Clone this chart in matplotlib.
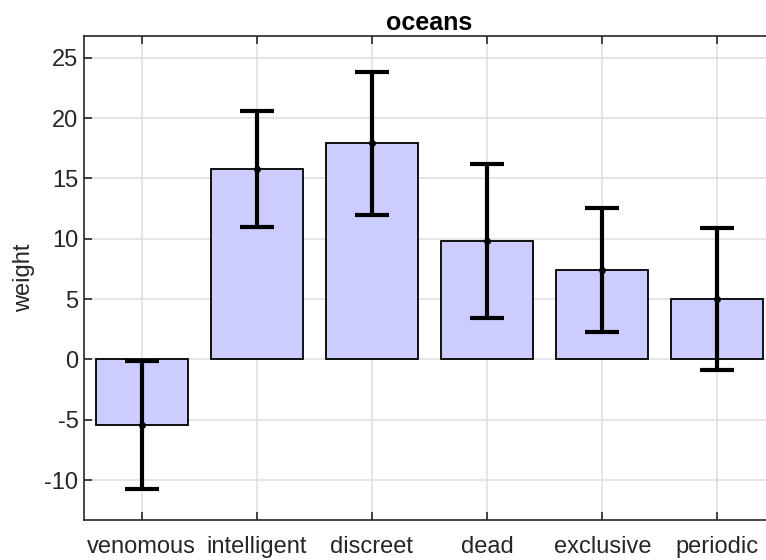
import matplotlib.pyplot as plt
import numpy as np

# bar heights and error half-widths per category
categories = ["venomous", "intelligent", "discreet", "dead", "exclusive", "periodic"]
weights = [-5.45, 15.8, 17.9, 9.8, 7.4, 5.0]
errors = [5.3, 4.8, 5.9, 6.4, 5.15, 5.9]

plt.rcParams["font.family"] = ["Liberation Sans", "DejaVu Sans"]
plt.rcParams["axes.unicode_minus"] = False

fig = plt.figure(figsize=(7.66, 5.6), dpi=100)
# axes runs a bit past the right edge of the figure
ax = fig.add_axes([84 / 766, 40 / 560, 691 / 766, 484 / 560])

x = np.arange(1, len(categories) + 1)
ax.bar(x, weights, width=0.8, color="#ccccff", edgecolor="black", linewidth=1.3, zorder=2)
ax.errorbar(x, weights, yerr=errors, fmt="o", color="black", markersize=4,
            elinewidth=3, capsize=12, capthick=3, zorder=3)

ax.set_xlim(0.5, 6.5)
ax.set_ylim(-13.3, 26.8)
ax.set_xticks(x)
ax.set_xticklabels(categories, va="baseline")
ax.set_yticks([-10, -5, 0, 5, 10, 15, 20, 25])

ax.grid(True, color="#e0e0e0", linewidth=1.2, zorder=0)
ax.set_axisbelow(True)
ax.tick_params(direction="in", length=6, width=1.2, colors="#262626",
               labelsize=17, top=True, right=True)
ax.tick_params(axis="x", pad=23.5)
ax.tick_params(axis="y", pad=4)
for s in ax.spines.values():
    s.set_color("#262626")
    s.set_linewidth(1.2)

ax.set_ylabel("weight", fontsize=17, color="#262626", labelpad=7)
ax.set_title("oceans", fontsize=18, fontweight="bold", pad=4.5)

fig.savefig("out.png", dpi=100)
